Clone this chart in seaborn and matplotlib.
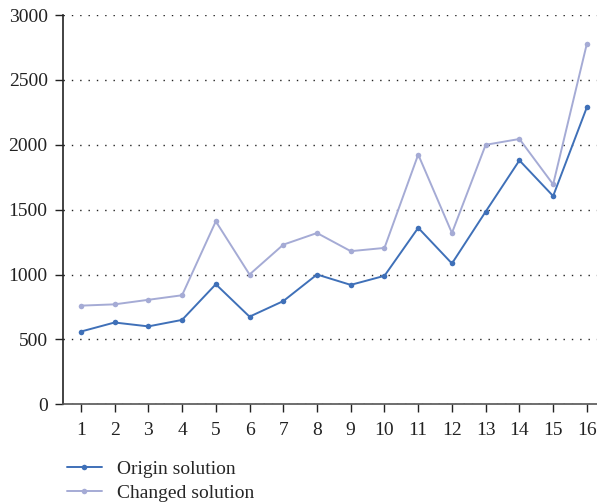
import matplotlib
matplotlib.use("Agg")
import matplotlib.pyplot as plt
import seaborn as sns
import pandas as pd

x_vals = list(range(1, 17))
origin = [560, 630, 600, 650, 925, 675, 795, 1000, 920, 990, 1360, 1085, 1485, 1880, 1605, 2290]
changed = [760, 770, 805, 840, 1410, 1000, 1230, 1320, 1180, 1205, 1925, 1320, 2000, 2045, 1695, 2780]
y_ticks = [0, 500, 1000, 1500, 2000, 2500, 3000]

df = pd.DataFrame({
    "x": x_vals * 2,
    "value": origin + changed,
    "series": ["Origin solution"] * 16 + ["Changed solution"] * 16,
})

sns.set_style("white")
plt.rcParams["font.family"] = ["Liberation Serif", "DejaVu Serif"]

fig = plt.figure(figsize=(5.97, 5.04), dpi=100)
ax = fig.add_axes([0.1055, 0.198, 0.8945, 0.772])

palette = {"Origin solution": "#3f70b8", "Changed solution": "#a5abd5"}
sns.lineplot(data=df, x="x", y="value", hue="series", palette=palette,
             marker="o", markersize=4, markeredgewidth=0, linewidth=1.4, ax=ax)

ax.set_xlim(0.47, 16.3)
ax.set_ylim(0, 3000)
ax.set_xticks(x_vals)
ax.set_yticks(y_ticks)
ax.set_xlabel("")
ax.set_ylabel("")
ax.yaxis.grid(True, color="#222222", linestyle=(0, (1, 5)), linewidth=1.0)
ax.set_axisbelow(True)

for s in ["top", "right"]:
    ax.spines[s].set_visible(False)
ax.spines["left"].set_color("#222222")
ax.spines["bottom"].set_color("#555555")
ax.spines["left"].set_linewidth(1.2)
ax.spines["bottom"].set_linewidth(1.2)
ax.tick_params(axis="both", direction="out", length=6, width=1.0, colors="#222222",
               labelsize=14, pad=5, bottom=True, left=True)
ax.tick_params(axis="x", pad=7)

leg = ax.legend(loc="upper left", bbox_to_anchor=(-0.015, -0.115), frameon=False,
                fontsize=14, handlelength=1.8, labelspacing=0.3, handletextpad=0.8,
                borderaxespad=0.2)

fig.savefig("out.png", dpi=100)
